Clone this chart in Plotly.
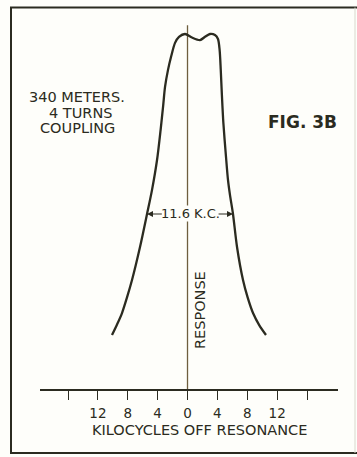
import plotly.graph_objects as go

# Selectivity curve: kilocycles off resonance vs relative response
kc_off = [-10.11, -9.45, -8.77, -8.10, -7.43, -6.36, -5.42, -4.75, -4.08, -3.60,
          -3.25, -3.01, -2.61, -2.21, -1.67, -1.14, -0.33, 0.60, 1.67, 2.34,
          3.01, 3.68, 4.08, 4.30, 4.45, 4.60, 4.80, 5.15, 5.42, 5.69,
          6.09, 6.63, 7.43, 8.05, 8.77, 9.60, 10.51]
response = [15.2, 18.1, 21.4, 25.8, 30.7, 40.0, 49.3, 56.1, 64.5, 73.0,
            80.0, 85.1, 89.9, 93.5, 97.5, 99.2, 100.0, 99.0, 98.3, 99.2,
            100.0, 99.7, 98.6, 95.5, 90.0, 83.0, 75.0, 65.5, 58.9, 54.6,
            49.3, 40.0, 30.7, 25.8, 21.4, 18.0, 15.2]

tick_vals = [-16, -12, -8, -4, 0, 4, 8, 12, 16]
tick_text = ["", "12", "8", "4", "0", "4", "8", "12", ""]

# Bandwidth marker
bw_left, bw_right, bw_level = -5.42, 6.09, 49.3
bw_label = "11.6 K.C."

ink = "#2b2b20"
rule = "#6e5e3e"
paper = "#fefefa"
font = "DejaVu Sans"

fig = go.Figure()

# Vertical response axis through zero
fig.add_trace(go.Scatter(x=[0, 0], y=[0, 102.5], mode="lines",
                         line=dict(color=rule, width=1.3), hoverinfo="skip"))

fig.add_trace(go.Scatter(x=kc_off, y=response, mode="lines",
                         line=dict(color=ink, width=2.3, shape="spline", smoothing=0.8),
                         hoverinfo="skip"))

fig.update_layout(
    width=357, height=457,
    margin=dict(l=0, r=0, t=0, b=0),
    paper_bgcolor=paper, plot_bgcolor="rgba(0,0,0,0)",
    showlegend=False,
    xaxis=dict(domain=[40 / 357, 338 / 357], range=[-19.75, 20.15],
               tickvals=tick_vals, ticktext=tick_text, ticks="outside",
               ticklen=9, tickwidth=1.3, tickcolor=ink,
               showline=True, linecolor=ink, linewidth=1.6,
               showgrid=False, zeroline=False,
               tickfont=dict(family=font, size=13.5, color=ink),
               ticklabelstandoff=2),
    yaxis=dict(domain=[68 / 457, 1], range=[0, 109.58],
               visible=False, showgrid=False, zeroline=False),
)

# Frame around the figure
fig.add_shape(type="line", xref="paper", yref="paper",
              x0=11 / 357, x1=11 / 357, y0=4 / 457, y1=449.5 / 457,
              line=dict(color=ink, width=2))
fig.add_shape(type="line", xref="paper", yref="paper",
              x0=10 / 357, x1=1, y0=4 / 457, y1=4 / 457,
              line=dict(color=ink, width=2))
fig.add_shape(type="line", xref="paper", yref="paper",
              x0=10 / 357, x1=1, y0=449.5 / 457, y1=449.5 / 457,
              line=dict(color=ink, width=2))
fig.add_shape(type="line", xref="paper", yref="paper",
              x0=355 / 357, x1=355 / 357, y0=4 / 457, y1=449.5 / 457,
              line=dict(color="#d8d8cc", width=1))

def ptext(txt, px, py, size, **kw):
    fig.add_annotation(text=txt, xref="paper", yref="paper",
                       x=px / 357, y=1 - py / 457, showarrow=False,
                       xanchor="center", yanchor="middle",
                       font=dict(family=font, size=size, color=ink), **kw)

ptext("340 METERS.", 77, 97, 14.5)
ptext("4 TURNS", 80, 112.5, 14.5)
ptext("COUPLING", 77, 128, 14.5)
ptext("<b>FIG. 3B</b>", 302, 122, 17)
ptext("KILOCYCLES OFF RESONANCE", 199, 429.5, 14.5)

# Rotated response label
fig.add_annotation(text="RESPONSE", x=1.7, y=22.3, xref="x", yref="y",
                   showarrow=False, textangle=-90,
                   font=dict(family=font, size=14.5, color=ink))

# Bandwidth label with arrows out to the curve
mid = 0.36
fig.add_annotation(text=bw_label, x=mid, y=bw_level, xref="x", yref="y",
                   showarrow=False, bgcolor=paper, borderpad=0,
                   font=dict(family=font, size=13, color=ink))
for end, tail in ((bw_left, mid - 3.6), (bw_right, mid + 3.6)):
    fig.add_annotation(x=end, y=bw_level, ax=tail, ay=bw_level,
                       xref="x", yref="y", axref="x", ayref="y",
                       text="", showarrow=True, arrowhead=2, arrowsize=1,
                       arrowwidth=1.2, arrowcolor=ink)

fig.write_html("out.html")
